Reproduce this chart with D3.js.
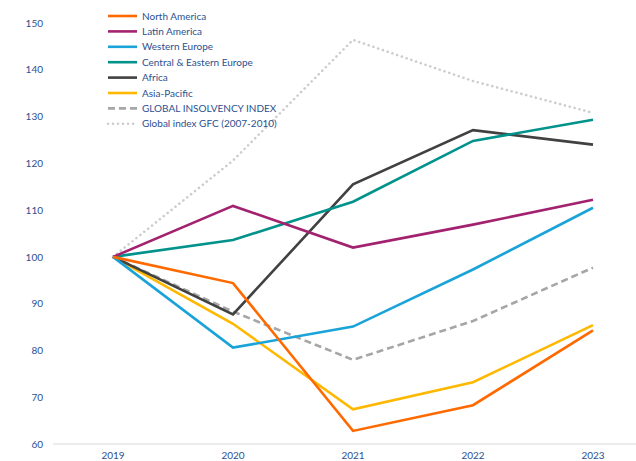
<!DOCTYPE html>
<html><head><meta charset="utf-8">
<script src="https://cdn.jsdelivr.net/npm/d3@7"></script>
<style>body{margin:0;background:#fff}svg{display:block}text{font-family:Lato,"Open Sans",sans-serif}</style>
</head><body><svg id="c" width="636" height="461"></svg>
<script>
const years = ["2019","2020","2021","2022","2023"];
const yTicks = [60,70,80,90,100,110,120,130,140,150];
const seriesNames = ["North America","Latin America","Western Europe","Central & Eastern Europe","Africa","Asia-Pacific","GLOBAL INSOLVENCY INDEX","Global index GFC (2007-2010)"];
const northAmerica = [100,94.4,62.8,68.3,84.3];
const latinAmerica = [100,110.9,102.0,106.9,112.2];
const westernEurope = [100,80.6,85.1,97.3,110.5];
const centralEasternEurope = [100,103.6,111.8,124.8,129.3];
const africa = [100,87.7,115.5,127.1,124.0];
const asiaPacific = [100,85.7,67.4,73.2,85.4];
const globalIndex = [100,88.3,78.0,86.3,97.7];
const gfcIndex = [100,120.6,146.4,137.6,130.8];
const colors = ["#ff6a00","#a3226f","#1aa3d8","#00928b","#414141","#ffb800","#a6a6a6","#cccccc"];

const series = [northAmerica,latinAmerica,westernEurope,centralEasternEurope,africa,asiaPacific,globalIndex,gfcIndex];
const svg = d3.select("#c");
const x = d3.scaleBand().domain(years).range([53,653]);
const y = d3.scaleLinear().domain([60,150]).range([444,23]);
const cx = d => x(d) + x.bandwidth()/2;

// baseline
svg.append("line").attr("x1",53).attr("x2",636).attr("y1",y(60)).attr("y2",y(60))
  .attr("stroke","#e6e6e6").attr("stroke-width",1.5);

// y labels
const ya = svg.append("g").attr("transform","translate(43,0)")
  .call(d3.axisLeft(y).tickValues(yTicks).tickSize(0).tickPadding(0));
ya.select(".domain").remove();
ya.selectAll("text").attr("fill","#2c4f8f").style("font-size","10px").style("font-family","Lato, sans-serif");

// x labels
const xa = svg.append("g").attr("transform","translate(0,452)")
  .call(d3.axisBottom(x).tickSize(0).tickPadding(0));
xa.select(".domain").remove();
xa.selectAll("text").attr("fill","#2c4f8f").style("font-size","10px").style("font-family","Lato, sans-serif");

const line = d3.line().x((d,i)=>cx(years[i])).y(d=>y(d));
const dash = i => i===6 ? "7,4" : (i===7 ? "0.01,5" : null);
const order = [7,6,5,4,3,2,1,0];
order.forEach(i=>{
  svg.append("path").datum(series[i]).attr("d",line).attr("fill","none")
    .attr("stroke",colors[i]).attr("stroke-width",2.6)
    .attr("stroke-dasharray",dash(i))
    .attr("stroke-linecap", i===7 ? "round" : "butt")
    .attr("stroke-linejoin","miter");
});

// legend
const lg = svg.append("g");
seriesNames.forEach((n,i)=>{
  const yy = 16 + i*15.4;
  lg.append("line").attr("x1",108).attr("x2",137).attr("y1",yy).attr("y2",yy)
    .attr("stroke",colors[i]).attr("stroke-width",2.6).attr("stroke-dasharray",dash(i))
    .attr("stroke-linecap", i===7 ? "round" : "butt");
  lg.append("text").attr("x",142).attr("y",yy).attr("dy","0.35em")
    .attr("fill","#2c4f8f").style("font-size","10px").text(n);
});
</script></body></html>
